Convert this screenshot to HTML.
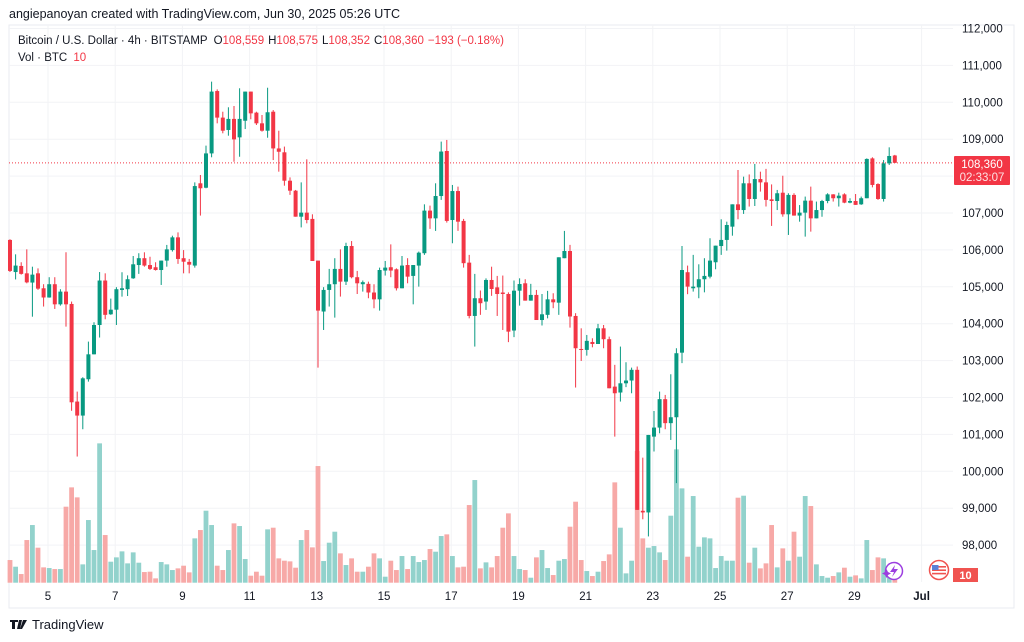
<!DOCTYPE html>
<html><head><meta charset="utf-8">
<style>
html,body{margin:0;padding:0;background:#fff;width:1024px;height:642px;overflow:hidden;font-family:"Liberation Sans",sans-serif}
svg text{font-family:"Liberation Sans",sans-serif}
</style></head>
<body>
<svg id="chart" width="1024" height="642" viewBox="0 0 1024 642" xmlns="http://www.w3.org/2000/svg">
<rect x="9" y="25" width="1005" height="583" fill="#fff" stroke="#e9ebf0"/>
<g id="grid"></g>
<g id="vol"></g>
<g id="candles"></g>
<g id="axis"></g>
<g id="taxis"></g>
<text x="9" y="18" font-size="12.5" fill="#131722">angiepanoyan created with TradingView.com, Jun 30, 2025 05:26 UTC</text>
<text x="18" y="44" font-size="11.5" fill="#131722">Bitcoin / U.S. Dollar · 4h · BITSTAMP <tspan dx="3">O</tspan><tspan fill="#f23645">108,559</tspan><tspan dx="4">H</tspan><tspan fill="#f23645">108,575</tspan><tspan dx="4">L</tspan><tspan fill="#f23645">108,352</tspan><tspan dx="4">C</tspan><tspan fill="#f23645">108,360</tspan><tspan dx="4" fill="#f23645">−193 (−0.18%)</tspan></text>
<text x="18" y="61" font-size="11.5" fill="#131722">Vol · BTC <tspan dx="3" fill="#f23645">10</tspan></text>
<g>
<rect x="954" y="156" width="56" height="29" rx="1" fill="#f23645"/>
<text x="982" y="168" font-size="11.5" fill="#fff" text-anchor="middle">108,360</text>
<text x="982" y="181" font-size="11.5" fill="#fde1e3" text-anchor="middle">02:33:07</text>
</g>
<g>
<rect x="953" y="568" width="25" height="14" fill="#f05350"/>
<text x="965.5" y="579" font-size="11" font-weight="bold" fill="#fff" text-anchor="middle">10</text>
</g>
<g>
<circle cx="894" cy="571" r="8.5" fill="#fff" stroke="#9c3ee0" stroke-width="1.5"/>
<path d="M895 565 L890 572 L894 572 L892 577 L898 569 L894 569 Z" fill="#9c3ee0"/>
<path d="M885 572 l1.5 -3 l1.5 3 l3 1.5 l-3 1.5 l-1.5 3 l-1.5 -3 l-3 -1.5 z" fill="#9c3ee0"/>
</g>
<g>
<circle cx="939" cy="570" r="9.5" fill="#fff" stroke="#f05350" stroke-width="1.5"/>
<rect x="932" y="565" width="14" height="10" fill="#fff"/>
<rect x="932" y="566" width="14" height="1.6" fill="#f05350"/>
<rect x="932" y="569.4" width="14" height="1.6" fill="#f05350"/>
<rect x="932" y="572.8" width="14" height="1.6" fill="#f05350"/>
<rect x="932" y="565" width="6.5" height="5" fill="#5b7fd6"/>
</g>
<g>
<path d="M10 620 h8 v2 h-3 v7 h-3 v-7 h-2 z M19 620 h3 l-2 9 h-3 z M23 620 h4 l-5 9 h-2 z" fill="#131722"/>
<text x="32" y="629" font-size="13" fill="#131722">TradingView</text>
</g>
</svg>
<script>
const opens=[106270,105400,105565,105365,105115,105365,104960,104710,105070,104525,104870,104535,101890,101510,102495,103170,103965,105170,104255,104380,104915,104935,105230,105590,105775,105590,105530,105455,105710,105995,106340,105775,105675,105575,107805,107685,108615,110305,109585,109250,109550,109050,109500,110290,109720,109430,109230,109745,108750,108645,107875,107605,106900,107010,106840,105710,104330,104915,105070,105485,105140,106105,105260,105070,105080,104845,104660,105440,105530,105475,104960,105590,105295,105575,105910,107065,106855,107460,108680,106810,107595,106785,105655,104210,104690,104600,105185,104985,104845,104805,103815,104895,105095,104625,104780,104100,104240,104660,104570,105775,105970,104210,103315,103290,103505,103450,103875,103580,102295,102135,102385,102460,102750,98930,98885,100940,101185,101955,101305,101465,103215,105395,104960,104985,105205,105275,105665,106105,106270,106630,107235,107080,107805,107380,107920,107830,107370,107325,107550,106965,107490,106930,107010,107335,106855,107080,107325,107505,107400,107505,107280,107325,107235,107400,108480,107785,107380,108345,108559];
const highs=[106290,105880,105665,106015,105545,105500,105070,105260,105260,104935,105935,104600,102160,102550,103515,104040,105400,105365,104680,104990,105395,105310,105835,105910,105935,105815,105665,105710,106135,106385,106475,105995,105755,107830,108030,108825,110560,110350,109745,109865,109900,110380,110290,110290,109745,109655,110395,109790,109230,108800,107965,107625,107830,108455,106965,105710,104990,105485,105775,106015,106195,106240,105430,105170,105140,105070,105520,105700,106150,105500,105835,105775,105590,105955,107235,107200,107805,108935,108980,107760,107715,106840,105865,105350,104900,105230,105545,105295,105305,104850,105170,105230,105205,105080,104915,104805,104890,104825,105800,106515,106135,104285,103875,103695,103605,103995,103965,103650,102885,103380,102955,102810,102840,100370,100985,101635,102160,102070,102630,103335,106105,105575,105865,105610,105775,106315,106115,106830,106765,107235,108165,107985,108045,108330,108120,108195,107775,107625,108010,107535,107535,107215,107445,107715,107310,107355,107535,107510,107550,107535,107400,107515,107445,108480,108510,107805,108435,108780,108575];
const lows=[105400,105200,105330,105095,104190,104915,104465,104705,104400,104490,103920,101640,100400,101140,102430,103170,103625,104120,104240,103965,104735,104750,105215,105350,105545,105455,105440,105050,105545,105955,105620,105365,105365,105520,106930,107670,108510,109430,109160,109095,108390,108525,109275,109540,109385,109205,109040,108435,108120,107740,107490,106900,106610,106720,105700,102810,103830,104465,104165,104735,105050,105230,104805,104870,104690,104420,104355,105305,105260,104900,104960,105095,104525,105005,105865,106570,106515,107355,106740,106180,106515,105520,104145,103380,104240,104375,104755,104210,103830,103500,103635,104490,104625,104625,104100,103950,104145,104420,104240,105775,103895,102270,102990,103135,103360,103450,103335,102250,100940,101890,102280,102115,98955,98700,98235,100535,101030,101140,100850,99680,102930,104800,104870,104690,104850,105230,105475,105865,105980,106385,106830,106975,107175,107190,107580,107175,106650,107080,106900,106405,106930,106765,106360,106495,106855,106900,107265,107310,107175,107265,107265,107220,107220,107400,107695,107355,107310,108300,108352];
const closes=[105430,105575,105350,105120,105330,104950,104710,105070,104525,104870,104525,101870,101510,102520,103170,103965,105170,104240,104380,104935,104960,105205,105610,105775,105575,105485,105455,105710,106015,106340,105755,105680,105600,107730,107670,108615,110290,109585,109230,109550,108995,109550,110290,109700,109430,109230,109730,108750,108660,107875,107605,106900,107010,106810,105700,104355,104915,105070,105485,105140,106105,105260,105095,105125,104845,104660,105455,105520,105440,104960,105575,105275,105590,105925,107065,106855,107460,108665,106785,107595,106765,105640,104210,104690,104555,105185,104940,104805,104805,103785,104895,105075,104625,104780,104100,104255,104660,104580,105800,105970,104195,103335,103290,103535,103450,103875,103580,102250,102115,102385,102460,102750,98955,98885,100985,101185,101955,101305,101465,103200,105455,105005,105005,105205,105295,105710,106115,106270,106675,107235,107080,107805,107380,107920,107830,107355,107325,107535,106965,107490,106930,107010,107335,106855,107080,107325,107505,107400,107470,107280,107325,107220,107400,108465,107760,107380,108345,108545,108360];
const volumes=[68,48,26,128,173,105,46,44,41,41,228,286,256,55,188,98,418,143,63,76,94,58,91,60,32,33,13,62,55,38,43,51,31,133,158,216,173,51,38,98,178,170,71,21,33,21,160,165,73,66,64,45,128,158,106,350,65,120,153,88,53,73,33,33,48,88,73,18,66,38,80,41,80,62,68,101,93,140,145,80,46,48,233,308,43,61,46,80,165,208,80,41,38,15,76,98,44,23,66,71,168,243,68,35,20,33,65,85,301,165,28,66,395,133,105,110,91,68,201,400,283,78,260,108,136,133,44,80,66,66,255,261,60,105,43,58,173,46,103,66,153,78,260,230,55,20,15,20,31,45,18,22,13,128,38,76,73,33,18];
const priceTicks=[112000,111000,110000,109000,108000,107000,106000,105000,104000,103000,102000,101000,100000,99000,98000];
const dayTicks=[5,7,9,11,13,15,17,19,21,23,25,27,29];
const dayLabels=["5","7","9","11","13","15","17","19","21","23","25","27","29"];
const lastPrice=108360;

const NS="http://www.w3.org/2000/svg";
const yP=p=>102.3+(110000-p)/1000*36.9;
const xI=i=>10+i*5.6;
const xDay=d=>48+(d-5)*33.6;
const volBase=582.7;
const yV=v=>volBase-v/3;
function mk(tag,attrs,parent){const e=document.createElementNS(NS,tag);for(const k in attrs)e.setAttribute(k,attrs[k]);parent.appendChild(e);return e;}
const grid=document.getElementById('grid'),vol=document.getElementById('vol'),cg=document.getElementById('candles'),ax=document.getElementById('axis'),tx=document.getElementById('taxis');

priceTicks.forEach(p=>{
  const y=yP(p);
  const l=mk('line',{x1:9,x2:953,y1:y,y2:y,stroke:'#f2f3f6','stroke-width':1},grid);
  
  
  const t=mk('text',{x:962,y:y+4,'font-size':11.5,fill:'#131722'},ax);
  t.textContent=p.toLocaleString('en-US');
  
  
});
dayTicks.forEach((d,k)=>{
  const x=xDay(d);
  const l=mk('line',{x1:x,x2:x,y1:25,y2:582,stroke:'#f2f3f6','stroke-width':1},grid);
  
  
  const t=mk('text',{x:x,y:600,'font-size':11.5,fill:'#131722','text-anchor':'middle'},tx);
  t.textContent=dayLabels[k];
  
  
});
{
  const x=xDay(31);
  const l=mk('line',{x1:x,x2:x,y1:25,y2:582,stroke:'#f2f3f6','stroke-width':1},grid);
  
  
  const t=mk('text',{x:x,y:600,'font-size':11.5,'font-weight':'bold',fill:'#131722','text-anchor':'middle'},tx);
  t.textContent='Jul';
  
  
}
const pl=mk('line',{x1:9,x2:953,y1:yP(lastPrice),y2:yP(lastPrice),stroke:'#f23645','stroke-width':1,'stroke-dasharray':'1 2'},grid);



volumes.forEach((v,i)=>{
  const up=closes[i]>=opens[i];
  const r=mk('rect',{x:xI(i)-2.4,y:yV(v),width:4.8,height:v/3,fill:up?'#92d2cc':'#f7a9a7'},vol);
  
  
});
opens.forEach((o,i)=>{
  const c=closes[i],up=c>=o,col=up?'#089981':'#f23645',x=xI(i);
  const g=mk('g',{},cg);
  
  
  mk('line',{x1:x,x2:x,y1:yP(highs[i]),y2:yP(lows[i]),stroke:col,'stroke-width':1},g);
  const top=yP(Math.max(o,c)),bot=yP(Math.min(o,c));
  mk('rect',{x:x-2,y:top,width:4,height:Math.max(1,bot-top),fill:col},g);
});
</script>
</body></html>
